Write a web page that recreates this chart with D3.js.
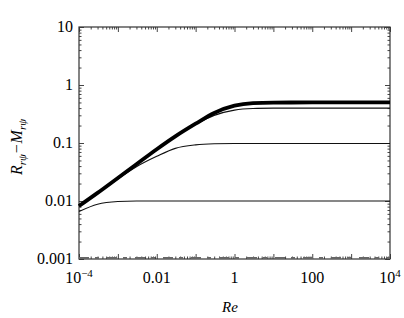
<!DOCTYPE html>
<html>
<head>
<meta charset="utf-8">
<script src="https://cdn.jsdelivr.net/npm/d3@7"></script>
<style>
  body { margin: 0; background: #fff; }
  text { font-family: "Liberation Serif", "Times New Roman", "DejaVu Serif", serif; }
</style>
</head>
<body>
<div id="chart"></div>
<script>
// values
const reValues = [1e-4, 3e-4, 1e-3, 3e-3, 0.01, 0.03, 0.1, 0.3, 1, 3, 10, 100, 1000, 1e4]
const thickSeries = [0.0082, 0.0138, 0.025, 0.043, 0.078, 0.13, 0.215, 0.33, 0.44, 0.487, 0.498, 0.5, 0.5, 0.5]
const series04 = [0.0082, 0.0138, 0.025, 0.043, 0.078, 0.13, 0.21, 0.3, 0.37, 0.393, 0.398, 0.4, 0.4, 0.4]
const series01 = [0.0081, 0.0136, 0.024, 0.039, 0.059, 0.081, 0.093, 0.097, 0.098, 0.098, 0.098, 0.098, 0.098, 0.098]
const series001 = [0.0066, 0.0088, 0.0098, 0.01, 0.01, 0.01, 0.01, 0.01, 0.01, 0.01, 0.01, 0.01, 0.01, 0.01]
const dashedSeries = [0.00104, 0.00104, 0.00104, 0.00104, 0.00104, 0.00104, 0.00104, 0.00104, 0.00104, 0.00104, 0.00104, 0.00104, 0.00104, 0.00104]
const xTicks = [1e-4, 0.01, 1, 100, 1e4]
const xTickLabels = [['10', '\u22124'], ['0.01'], ['1'], ['100'], ['10', '4']]
const yTicks = [10, 1, 0.1, 0.01, 0.001]
const yTickLabels = ['10', '1', '0.1', '0.01', '0.001']

const margin = { top: 27, right: 14, bottom: 59, left: 79 },
    width = 404 - margin.left - margin.right,
    height = 318 - margin.top - margin.bottom

const svg = d3.select('#chart')
    .append('svg')
    .attr('width', 404)
    .attr('height', 318)
    .append('g')
    .attr('transform', 'translate(' + margin.left + ',' + margin.top + ')')

const x = d3.scaleLog().domain([1e-4, 1e4]).range([0, width])
const y = d3.scaleLog().domain([0.001, 10]).range([height, 0])

// minor ticks for each decade
const xMinor = []
for (let e = -4; e < 4; e++) for (let m = 2; m < 10; m++) xMinor.push(m * Math.pow(10, e))
const yMinor = []
for (let e = -3; e < 1; e++) for (let m = 2; m < 10; m++) yMinor.push(m * Math.pow(10, e))
const xMajor = d3.range(-4, 5).map(e => Math.pow(10, e))

function tickGroup(axis, scale, values, size) {
    return svg.append('g').call(axis(scale).tickValues(values).tickSize(size).tickFormat(''))
}
// ticks point inward
tickGroup(d3.axisTop, x, xMajor, 5).attr('transform', 'translate(0,' + height + ')')
tickGroup(d3.axisTop, x, xMinor, 2.5).attr('transform', 'translate(0,' + height + ')')
tickGroup(d3.axisBottom, x, xMajor, 5)
tickGroup(d3.axisBottom, x, xMinor, 2.5)
tickGroup(d3.axisRight, y, yTicks, 5)
tickGroup(d3.axisRight, y, yMinor, 2.5)
tickGroup(d3.axisLeft, y, yTicks, 5).attr('transform', 'translate(' + width + ',0)')
tickGroup(d3.axisLeft, y, yMinor, 2.5).attr('transform', 'translate(' + width + ',0)')
svg.selectAll('.domain').remove()
svg.selectAll('.tick line').attr('stroke', '#444')

svg.append('rect')
    .attr('width', width).attr('height', height)
    .attr('fill', 'none').attr('stroke', '#333').attr('stroke-width', 1.2)

// tick labels
svg.selectAll('.ylab')
    .data(yTicks)
    .enter()
    .append('text')
    .attr('x', -6)
    .attr('y', d => y(d) + 5)
    .attr('text-anchor', 'end')
    .style('font-size', '16px')
    .text((d, i) => yTickLabels[i])

const xl = svg.selectAll('.xlab')
    .data(xTicks)
    .enter()
    .append('text')
    .attr('x', d => x(d))
    .attr('y', height + 24)
    .attr('text-anchor', 'middle')
    .style('font-size', '16px')
xl.append('tspan').text((d, i) => xTickLabels[i][0])
xl.filter((d, i) => xTickLabels[i].length > 1)
    .append('tspan')
    .attr('dy', -6)
    .style('font-size', '11px')
    .text(d => xTickLabels[xTicks.indexOf(d)][1])

// curves
const line = d3.line()
    .x((d, i) => x(reValues[i]))
    .y(d => y(d))
    .curve(d3.curveMonotoneX)

const curves = [
    { v: dashedSeries, w: 2, dash: '10,6,4,8', color: '#666' },
    { v: series001, w: 1.2, color: '#111' },
    { v: series01, w: 1.2, color: '#111' },
    { v: series04, w: 1.2, color: '#111' },
    { v: thickSeries, w: 3.8, color: '#000' }
]
svg.selectAll('.curve')
    .data(curves)
    .enter()
    .append('path')
    .attr('d', d => line(d.v))
    .attr('fill', 'none')
    .attr('stroke', d => d.color)
    .attr('stroke-width', d => d.w)
    .attr('stroke-dasharray', d => d.dash || null)

// axis titles
const yt = svg.append('text')
    .attr('transform', 'translate(' + (22 - margin.left) + ',' + (147 - margin.top) + ') rotate(-90)')
    .attr('text-anchor', 'middle')
    .style('font-size', '16px')
    .style('font-style', 'italic')
yt.append('tspan').text('R')
yt.append('tspan').attr('dy', 4).style('font-size', '11px').text('r\u03c8')
yt.append('tspan').attr('dy', -4).text('\u2212M')
yt.append('tspan').attr('dy', 4).style('font-size', '11px').text('r\u03c8')

svg.append('text')
    .attr('x', 230 - margin.left)
    .attr('y', 312 - margin.top)
    .attr('text-anchor', 'middle')
    .style('font-size', '15px')
    .style('font-style', 'italic')
    .text('Re')
</script>
</body>
</html>
